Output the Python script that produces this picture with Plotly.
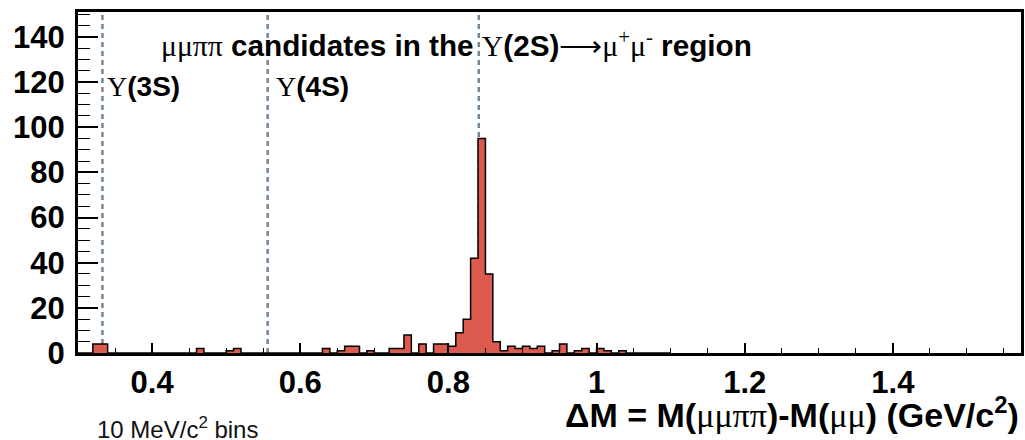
import plotly.graph_objects as go

# ---- data ----
bin_start = 0.30          # GeV/c^2, lower edge of first bin
bin_width = 0.01          # 10 MeV/c^2 bins
counts = [
    0, 0, 4, 4, 0, 0, 0, 0, 0, 0,      # 0.30 - 0.39
    0, 0, 0, 0, 0, 0, 2, 0, 0, 0,      # 0.40 - 0.49
    1, 2, 0, 0, 0, 0, 0, 0, 0, 0,      # 0.50 - 0.59
    0, 0, 0, 2, 0, 1, 3, 3, 0, 1,      # 0.60 - 0.69
    0, 0, 2, 2, 8, 0, 4, 0, 4, 4,      # 0.70 - 0.79
    3, 9, 15, 42, 95, 35, 5, 1, 3, 2,  # 0.80 - 0.89
    3, 2, 3, 0, 1, 4, 0, 1, 2, 0,      # 0.90 - 0.99
    2, 1, 0, 1, 0, 0, 0, 0, 0, 0,      # 1.00 - 1.09
]
ref_lines = [0.333, 0.556, 0.841]
ref_labels = ["<span style='font-family:Liberation Serif;font-weight:normal'>Υ</span>(3S)",
              "<span style='font-family:Liberation Serif;font-weight:normal'>Υ</span>(4S)"]
ref_label_x = [0.337, 0.564]
x_ticks = [0.4, 0.6, 0.8, 1.0, 1.2, 1.4]
x_tick_text = ["0.4", "0.6", "0.8", "1", "1.2", "1.4"]
y_ticks = [0, 20, 40, 60, 80, 100, 120, 140]

edges = [round(bin_start + i * bin_width, 4) for i in range(len(counts) + 1)]
step_y = counts + [counts[-1]]

SANS = "Liberation Sans, Arial"

fig = go.Figure()
fig.add_trace(go.Scatter(
    x=edges, y=step_y, mode="lines", line_shape="hv",
    line=dict(color="black", width=1.5),
    fill="tozeroy", fillcolor="#dd5a4e", hoverinfo="skip",
))

for xv in ref_lines:
    fig.add_shape(type="line", xref="x", yref="paper", x0=xv, x1=xv, y0=0, y1=1,
                  line=dict(color="#71879a", width=2.5, dash="5px,4px"), layer="below")

for xl, txt in zip(ref_label_x, ref_labels):
    fig.add_annotation(x=xl, y=118, xref="x", yref="y", xanchor="left", yanchor="middle",
                       text=txt, showarrow=False,
                       font=dict(family=SANS, size=28, color="black", weight="bold"))

fig.add_annotation(
    x=0.410, y=137, xref="x", yref="y", xanchor="left", yanchor="middle", showarrow=False,
    text=("<span style='font-family:Liberation Serif;font-weight:normal'>μμππ</span> candidates in the "
          "<span style='font-family:Liberation Serif;font-weight:normal'>Υ</span>(2S)"
          "<span style='font-family:Liberation Serif;font-weight:normal'>⟶μ<sup>+</sup>μ<sup>-</sup></span> region"),
    font=dict(family=SANS, size=29.7, color="black", weight="bold"))

fig.add_annotation(
    x=1.0, y=0, xref="paper", yref="paper", xanchor="right", yanchor="middle", yshift=-59,
    showarrow=False,
    text=("ΔM = M(<span style='font-family:Liberation Serif;font-weight:normal'>μμππ</span>)"
          "-M(<span style='font-family:Liberation Serif;font-weight:normal'>μμ</span>) (GeV/c<sup>2</sup>)"),
    font=dict(family=SANS, size=34, color="black", weight="bold"))

fig.add_annotation(
    x=(95 - 78) / 943, y=0, xref="paper", yref="paper", xanchor="left", yanchor="middle",
    yshift=-75, showarrow=False, text="10 MeV/c<sup>2</sup> bins",
    font=dict(family="Liberation Sans, Arial", size=24, color="#111111"))

fig.update_xaxes(
    range=[0.30, 1.573], tickvals=x_ticks, ticktext=x_tick_text,
    ticks="inside", ticklen=10, tickwidth=1.5, tickcolor="black",
    minor=dict(dtick=0.05, tick0=0.3, ticks="inside", ticklen=5, tickwidth=1.2, tickcolor="black"),
    showline=True, linewidth=3, linecolor="black", mirror=True,
    showgrid=False, zeroline=False, automargin=False,
    tickfont=dict(family=SANS, size=31, color="black", weight="bold"),
    ticklabelstandoff=0,
)
fig.update_yaxes(
    range=[0, 151], tickvals=y_ticks,
    ticks="inside", ticklen=20, tickwidth=1.5, tickcolor="black",
    minor=dict(dtick=5, tick0=0, ticks="inside", ticklen=12, tickwidth=1.2, tickcolor="black"),
    showline=True, linewidth=3, linecolor="black", mirror=True,
    showgrid=False, zeroline=False, automargin=False,
    tickfont=dict(family=SANS, size=31, color="black", weight="bold"),
    ticklabelstandoff=4,
)
fig.update_layout(
    width=1025, height=440,
    margin=dict(l=78, r=4, t=12, b=87),
    plot_bgcolor="white", paper_bgcolor="white",
    showlegend=False,
)
fig.write_html("out.html", config={"displayModeBar": False},
               post_script="document.body.style.margin='0';document.body.style.overflow='hidden';")
